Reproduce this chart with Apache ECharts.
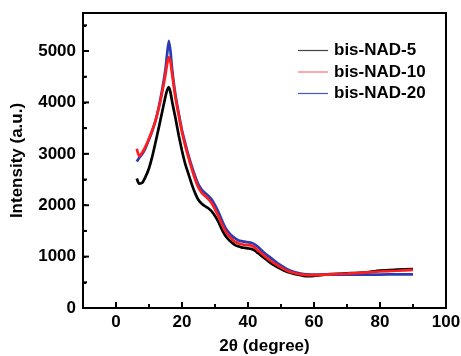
<!DOCTYPE html>
<html><head><meta charset="utf-8">
<script src="https://cdn.jsdelivr.net/npm/echarts@6/dist/echarts.min.js"></script>
<style>html,body{margin:0;padding:0;background:#fff}#c{width:461px;height:356px}</style>
</head><body><div id="c"></div>
<script>
const seriesNames = ['bis-NAD-5', 'bis-NAD-10', 'bis-NAD-20'];
const twoTheta = [6.3,7,8,9,10,11,12,13,14,15,15.5,16,16.5,17,18,19,20,21,22,23,24,25,26,27,28,29,30,31,32,33,34,35,36,37,38,39,40,41,42,43,44,45,46,47,48,49,50,52,54,56,58,60,62,65,70,75,80,85,90];
const nad5 = [2520,2420,2440,2560,2720,2950,3230,3520,3820,4120,4240,4300,4200,4020,3700,3360,3060,2800,2600,2400,2230,2100,2030,1980,1940,1880,1790,1680,1540,1420,1340,1280,1230,1200,1180,1170,1160,1150,1120,1070,1020,970,920,870,830,790,760,700,665,640,620,625,640,660,675,690,730,745,755];
const nad10 = [3100,2960,3030,3150,3300,3460,3650,3900,4200,4550,4750,4880,4800,4550,4100,3750,3420,3150,2920,2700,2500,2340,2240,2180,2120,2040,1920,1790,1640,1510,1420,1350,1290,1260,1240,1230,1225,1215,1180,1120,1070,1010,960,910,870,830,790,720,680,655,640,640,645,655,670,690,710,725,740];
const nad20 = [2850,2920,3000,3120,3280,3450,3650,3920,4250,4650,4950,5200,5000,4650,4150,3790,3460,3200,2960,2750,2560,2400,2300,2240,2180,2110,2000,1870,1720,1580,1480,1410,1360,1320,1300,1290,1280,1270,1240,1190,1130,1070,1020,970,920,870,830,750,700,670,655,650,650,650,650,650,650,655,655];
const xMajor = [0,20,40,60,80,100];
const xMinor = [10,30,50,70,90];
const yMajor = [0,1000,2000,3000,4000,5000];
const yMinor = [500,1500,2500,3500,4500,5500];
const colors = ['#000000', '#ff1e1e', '#2a3bb5'];
const legendColors = ['#444444', '#ff7070', '#4a55cc'];

const font = '"Liberation Sans", Arial, sans-serif';
const pair = arr => twoTheta.map((x, i) => [x, arr[i]]);
const chart = echarts.init(document.getElementById('c'), null, {renderer: 'canvas'});
const lbl = () => ({color: '#000', fontFamily: font, fontWeight: 'bold', fontSize: 17});
const mkSeries = (name, data, color) => ({
  name: name, type: 'line', data: pair(data), symbol: 'none', smooth: 0.2,
  itemStyle: {color: color}, lineStyle: {width: 2.7, color: color}
});
chart.setOption({
  animation: false,
  grid: {left: 83, right: 15, top: 13, bottom: 48, show: true, borderColor: '#000', borderWidth: 2, outerBoundsMode: 'none', containLabel: false},
  legend: {
    data: seriesNames.map((n, i) => ({name: n, itemStyle: {color: legendColors[i]}})),
    orient: 'vertical', left: 293, top: 37,
    itemWidth: 30, itemHeight: 1.2, itemGap: 4.5, icon: 'rect',
    textStyle: {color: '#000', fontFamily: font, fontWeight: 'bold', fontSize: 17, padding: [0,0,0,1]}
  },
  xAxis: {
    type: 'value', min: -10, max: 100, interval: 10, position: 'bottom',
    name: '2θ (degree)', nameLocation: 'middle', nameGap: 30, nameTextStyle: lbl(),
    axisLine: {show: true, onZero: false, lineStyle: {color: '#000', width: 2}},
    axisTick: {show: true, inside: true, length: 3, lineStyle: {color: '#000', width: 2}},
    axisLabel: Object.assign({margin: 6, formatter: v => (v % 20 === 0 ? String(v) : '')}, lbl()),
    splitLine: {show: false}
  },
  yAxis: {
    type: 'value', min: 0, max: 5740, interval: 500, position: 'left',
    name: 'Intensity (a.u.)', nameLocation: 'middle', nameGap: 57, nameTextStyle: lbl(),
    axisLine: {show: true, onZero: false, lineStyle: {color: '#000', width: 2}},
    axisTick: {show: true, inside: true, length: 3, lineStyle: {color: '#000', width: 2}},
    axisLabel: Object.assign({margin: 7, formatter: v => (v % 1000 === 0 ? String(v) : '')}, lbl()),
    splitLine: {show: false}
  },
  series: [
    mkSeries(seriesNames[0], nad5, colors[0]),
    mkSeries(seriesNames[2], nad20, colors[2]),
    mkSeries(seriesNames[1], nad10, colors[1])
  ]
});

// Tick marks placed through the chart's own scale (convertToPixel)
const tickEls = [];
const addX = (vals, len) => vals.forEach(v => {
  const p = chart.convertToPixel({gridIndex: 0}, [v, 0]);
  tickEls.push({type: 'line', z: 100, silent: true, shape: {x1: p[0], y1: p[1], x2: p[0], y2: p[1] - len}, style: {stroke: '#000', lineWidth: 2}});
});
const addY = (vals, len) => vals.forEach(v => {
  const p = chart.convertToPixel({gridIndex: 0}, [-10, v]);
  tickEls.push({type: 'line', z: 100, silent: true, shape: {x1: p[0], y1: p[1], x2: p[0] + len, y2: p[1]}, style: {stroke: '#000', lineWidth: 2}});
});
addX(xMajor, 6); addX(xMinor, 4);
addY(yMajor, 6); addY(yMinor, 4);
chart.setOption({graphic: {elements: tickEls}});
</script></body></html>
